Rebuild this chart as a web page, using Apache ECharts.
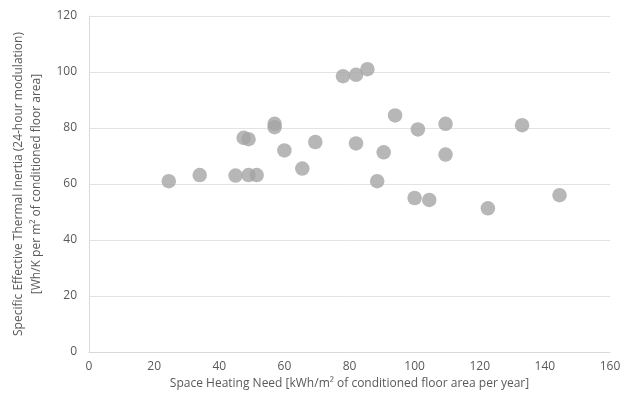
<!DOCTYPE html>
<html>
<head>
<meta charset="utf-8">
<script src="https://cdn.jsdelivr.net/npm/echarts@6/dist/echarts.min.js"></script>
<style>
html,body{margin:0;padding:0;background:#fff}
#chart{width:628px;height:397px}
</style>
</head>
<body>
<div id="chart"></div>
<script>
// space heating need (x) and thermal inertia (y)
let heatingNeed=[24.5,34,45,49,51.5,47.5,49,57,57,60,65.5,69.5,78,82,85.5,82,88.5,90.5,94,100,101,104.5,109.5,109.5,122.5,133,144.5]
let inertia=[61,63.2,63,63.2,63.2,76.5,76,81.5,80.3,72,65.5,75,98.5,99,101,74.5,61,71.3,84.5,55,79.5,54.3,81.5,70.5,51.3,81,56]

let xTitle="Space Heating Need [kWh/m² of conditioned floor area per year]"
let yTitle="Specific Effective Thermal Inertia (24-hour modulation)\n[Wh/K per m² of conditioned floor area]"

let points=heatingNeed.map((x,i)=>[x,inertia[i]])

let chart=echarts.init(document.getElementById("chart"),null,{renderer:"canvas"})
let fontFam="'Open Sans', 'Liberation Sans', sans-serif"
let final={
    animation:false,
    grid:{left:89,right:18,top:16,bottom:45,outerBoundsMode:"none",containLabel:false},
    xAxis:{
        type:"value",
        min:0,max:160,interval:20,
        name:xTitle,
        nameLocation:"middle",
        nameGap:25,
        nameTextStyle:{color:"#595959",fontSize:12,fontFamily:fontFam},
        axisLine:{show:true,lineStyle:{color:"#d9d9d9"}},
        axisTick:{show:false},
        splitLine:{show:false},
        axisLabel:{color:"#595959",fontSize:12,fontFamily:fontFam,margin:9}
    },
    yAxis:{
        type:"value",
        min:0,max:120,interval:20,
        name:yTitle,
        nameLocation:"middle",
        nameGap:39,
        nameTextStyle:{color:"#595959",fontSize:12,fontFamily:fontFam,lineHeight:18},
        axisLine:{show:true,lineStyle:{color:"#d9d9d9"}},
        axisTick:{show:false},
        splitLine:{lineStyle:{color:"#e3e3e3"}},
        axisLabel:{color:"#595959",fontSize:12,fontFamily:fontFam,margin:12}
    },
    series:[{
        type:"scatter",
        data:points,
        symbolSize:14.5,
        itemStyle:{color:"#a5a5a5"}
    }]
}
chart.setOption(final)
</script>
</body>
</html>
